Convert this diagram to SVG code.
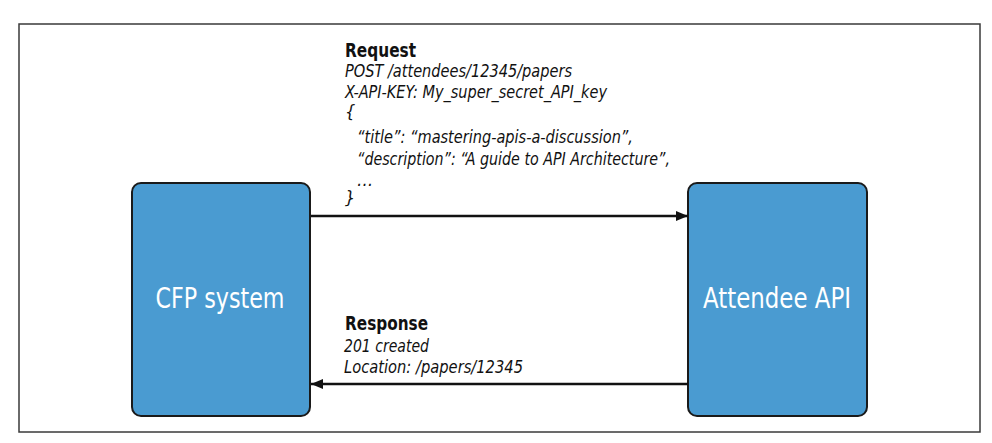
<svg xmlns="http://www.w3.org/2000/svg" width="992" height="443" viewBox="0 0 992 443">
<defs>
<marker id="ah" viewBox="0 0 12 10" refX="12" refY="5" markerWidth="12" markerHeight="10" markerUnits="userSpaceOnUse" orient="auto">
<path d="M0,0 L12,5 L0,10 Z" fill="#111"/>
</marker>
</defs>
<style>
.frame{fill:#fff;stroke:#3a3a3a;stroke-width:1.5}
.box{fill:#4a9bd1;stroke:#1a1a1a;stroke-width:2}
.nl{font-family:"DejaVu Sans Condensed","DejaVu Sans",sans-serif;font-size:28px;fill:#fff;text-anchor:middle}
.hd{font-family:"DejaVu Sans Condensed","DejaVu Sans",sans-serif;font-size:20px;font-weight:bold;fill:#111}
.it{font-family:"DejaVu Sans Condensed","DejaVu Sans",sans-serif;font-size:18px;font-style:italic;fill:#111}
.conn{stroke:#111;stroke-width:2.5;fill:none}
</style>
<rect class="frame" x="19" y="24" width="961" height="408"/>
<g id="cfp">
<rect class="box" x="132" y="183" width="178" height="233" rx="9"/>
<text class="nl" x="220" y="308" textLength="129" lengthAdjust="spacingAndGlyphs">CFP system</text>
</g>
<g id="attendee">
<rect class="box" x="688" y="183" width="179" height="233" rx="9"/>
<text class="nl" x="777" y="308" textLength="148" lengthAdjust="spacingAndGlyphs">Attendee API</text>
</g>
<g id="connectors">
<line class="conn" x1="311" y1="216" x2="688" y2="216" marker-end="url(#ah)"/>
<line class="conn" x1="688" y1="384" x2="311" y2="384" marker-end="url(#ah)"/>
</g>
<g id="request-label">
<text class="hd" x="345" y="57" textLength="71" lengthAdjust="spacingAndGlyphs">Request</text>
<text class="it" x="345" y="77" textLength="227" lengthAdjust="spacingAndGlyphs">POST /attendees/12345/papers</text>
<text class="it" x="345" y="98" textLength="262" lengthAdjust="spacingAndGlyphs">X-API-KEY: My_super_secret_API_key</text>
<text class="it" x="345" y="118">{</text>
<text class="it" x="357" y="143" textLength="276" lengthAdjust="spacingAndGlyphs">“title”: “mastering-apis-a-discussion”,</text>
<text class="it" x="357" y="165" textLength="313" lengthAdjust="spacingAndGlyphs">“description”: “A guide to API Architecture”,</text>
<text class="it" x="357" y="186">…</text>
<text class="it" x="345" y="204">}</text>
</g>
<g id="response-label">
<text class="hd" x="345" y="330" textLength="83" lengthAdjust="spacingAndGlyphs">Response</text>
<text class="it" x="344" y="352" textLength="85" lengthAdjust="spacingAndGlyphs">201 created</text>
<text class="it" x="344" y="373" textLength="179" lengthAdjust="spacingAndGlyphs">Location: /papers/12345</text>
</g>
</svg>
